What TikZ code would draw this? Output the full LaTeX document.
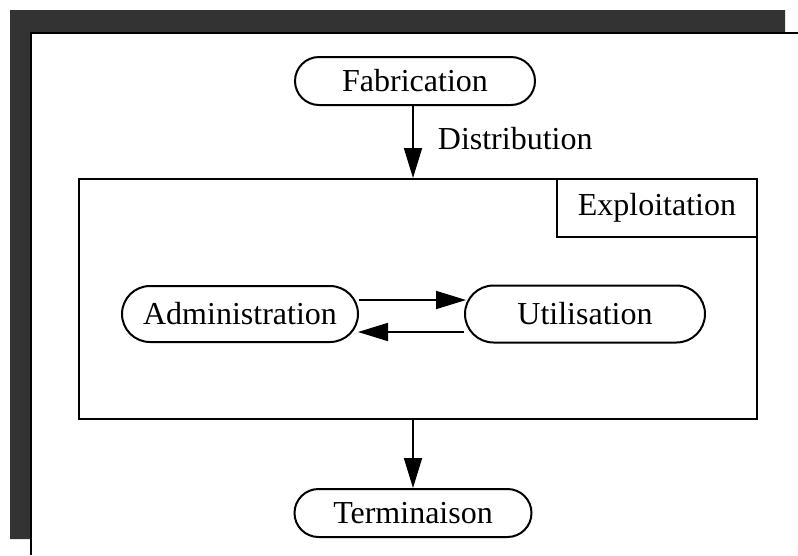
\documentclass[tikz,border=0pt]{standalone}
\usepackage{fontspec}
\setmainfont{Liberation Serif}
\usetikzlibrary{shapes.misc,arrows.meta,positioning}
\tikzset{
  stage/.style={rounded rectangle, draw, line width=2pt, minimum width=240pt, minimum height=48pt, inner sep=0pt, font=\fontsize{32}{38}\selectfont},
  conn/.style={line width=1.8pt, -{Triangle[length=30pt,width=18pt]}},
  shadowfill/.style={fill=black!80},
  frameline/.style={line width=2pt},
  lbl/.style={font=\fontsize{32}{38}\selectfont, inner sep=0pt}
}
\begin{document}
\begin{tikzpicture}[x=1pt,y=-1pt]
\useasboundingbox (0,0) rectangle (798,555);
% shadow frame
\fill[shadowfill] (10,10) -- (785,10) -- (785,33) -- (31,33) -- (31,539) -- (10,539) -- cycle;
\draw[frameline] (31,555) -- (31,33) -- (798,33);
% exploitation box
\node[draw, line width=2pt, minimum width=678pt, minimum height=240pt, inner sep=0pt] (expl) at (418,299) {};
\node[draw, line width=2pt, minimum width=200pt, minimum height=58pt, inner sep=0pt, anchor=north east, font=\fontsize{32}{38}\selectfont] (explbl) at (expl.north east) {Exploitation};
% stages
\node[stage] (fab) at (415,81) {Fabrication};
\node[stage, minimum width=236pt, minimum height=56pt] (adm) at (240,314) {Administration};
\node[stage, minimum height=57pt] (util) at (585,314) {Utilisation};
\node[stage, minimum width=237pt] (term) at (413,513) {Terminaison};
% connectors
\draw[conn] (fab.south -| 413,0) -- (expl.north -| 413,0) node[lbl, pos=0.45, anchor=west, xshift=24pt] (dist) {Distribution};
\draw[conn] (expl.south -| 413,0) -- (term.north -| 413,0);
\draw[conn] ([yshift=14pt]adm.east) -- ([yshift=14pt, xshift=2pt]util.west);
\draw[conn] ([yshift=-18pt]util.west) -- ([yshift=-18pt, xshift=-1pt]adm.east);
\end{tikzpicture}
\end{document}
